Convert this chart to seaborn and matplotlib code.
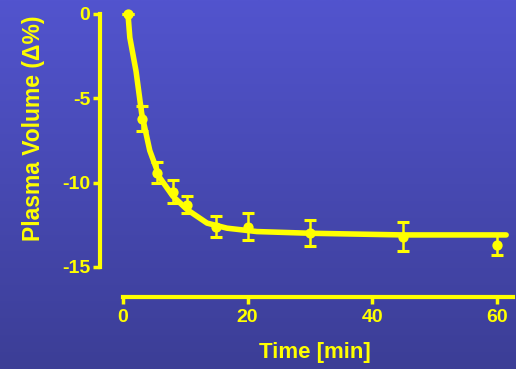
import numpy as np
import pandas as pd
import matplotlib
matplotlib.use("Agg")
import matplotlib.pyplot as plt
import seaborn as sns

# ---- data ----
times = [0.8, 3, 5.5, 8, 10.3, 15, 20, 30, 45, 60]
means = [0, -6.2, -9.4, -10.55, -11.3, -12.6, -12.6, -13.0, -13.2, -13.7]
errs = [0, 0.75, 0.6, 0.68, 0.5, 0.65, 0.8, 0.77, 0.85, 0.6]

fit_t = [0.8, 1.1, 2.1, 3.0, 4.3, 5.9, 8.0, 10.3, 13.5, 16.7, 21.5, 30, 45, 61.5]
fit_y = [0, -1.4, -3.4, -5.9, -8.1, -9.7, -10.8, -11.6, -12.4, -12.7, -12.9, -13.0, -13.1, -13.1]

xticks = [0, 20, 40, 60]
yticks = [0, -5, -10, -15]
ytick_labels = ["0", "-5", "-10", "-15"]

YEL = "#FFFF00"

sns.set_style("white")
plt.rcParams["font.family"] = ["Liberation Sans", "DejaVu Sans"]
plt.rcParams["font.weight"] = "bold"

fig = plt.figure(figsize=(5.16, 3.69), dpi=100)

# background gradient
bg = fig.add_axes([0, 0, 1, 1], zorder=0)
top = np.array([82, 84, 206]) / 255
bot = np.array([60, 62, 150]) / 255
g = np.linspace(0, 1, 256)[:, None]
grad = top[None, :] * (1 - g) + bot[None, :] * g
bg.imshow(grad[:, None, :], aspect="auto", extent=[0, 1, 0, 1])
bg.axis("off")

ax = fig.add_axes([100 / 516, 72 / 369, 413 / 516, 287 / 369], zorder=1)
ax.patch.set_alpha(0)

fit_df = pd.DataFrame({"t": fit_t, "y": fit_y})
pts_df = pd.DataFrame({"t": times, "y": means, "e": errs})

sns.lineplot(data=fit_df, x="t", y="y", ax=ax, color=YEL, lw=4, sort=False,
             solid_capstyle="round", solid_joinstyle="round")
ax.errorbar(pts_df["t"], pts_df["y"], yerr=pts_df["e"], fmt="none",
            ecolor=YEL, elinewidth=1.8, capsize=4.5, capthick=2.2, clip_on=False)
sns.scatterplot(data=pts_df, x="t", y="y", ax=ax, color=YEL, s=55,
                edgecolor=YEL, linewidth=0, clip_on=False, zorder=5)

ax.set_xlim(-3.69, 62.6)
ax.set_ylim(-16.78, 0.237)

for s in ["top", "right"]:
    ax.spines[s].set_visible(False)
for s in ["left", "bottom"]:
    ax.spines[s].set_color(YEL)
    ax.spines[s].set_linewidth(3)
ax.spines["left"].set_bounds(-15, 0)
ax.spines["bottom"].set_bounds(0, 62.6)

ax.set_xticks(xticks)
ax.set_xticklabels([str(v) for v in xticks])
ax.set_yticks(yticks)
ax.set_yticklabels(ytick_labels)
ax.tick_params(axis="both", colors=YEL, direction="out", length=5, width=2.5,
               labelsize=14, labelcolor=YEL, left=True, bottom=True)
ax.tick_params(axis="y", pad=2)
ax.tick_params(axis="x", pad=4)
for lab in ax.get_xticklabels() + ax.get_yticklabels():
    lab.set_fontweight("bold")

ax.set_xlabel("Time [min]", color=YEL, fontsize=16, fontweight="bold")
ax.set_ylabel("Plasma Volume (Δ%)", color=YEL, fontsize=16.5, fontweight="bold")
ax.xaxis.label.set_va("center")
ax.yaxis.label.set_va("center")
ax.xaxis.set_label_coords(0.52, -0.195)
ax.yaxis.set_label_coords(-0.162, 0.589)

fig.savefig("out.png", dpi=100)
